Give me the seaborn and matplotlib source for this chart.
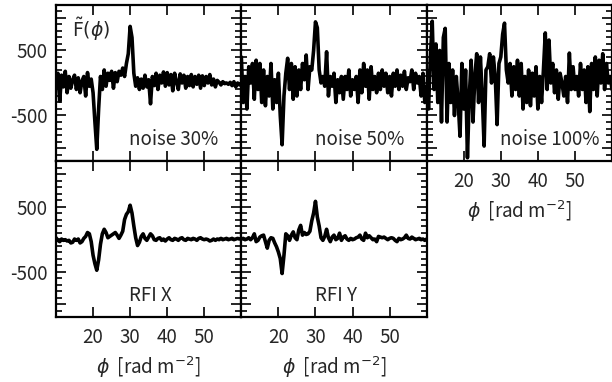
import numpy as np
import pandas as pd
import matplotlib
matplotlib.use("Agg")
import matplotlib.pyplot as plt
from matplotlib.ticker import MultipleLocator
import seaborn as sns

# Faraday dispersion function samples, phi = 10 .. 60 rad m^-2 in steps of 0.5
phi = np.arange(10, 60.5, 0.5)

noise_30 = [
    0, 150, -280, 120, -60, 180, -150, 100, -80, 50,
    120, -100, 80, -150, 30, 100, -200, 160, -50, 60,
    -150, -600, -1020, -400, 100, -100, 200, -50, 150, 40,
    180, -80, 160, 20, 180, 120, 230, 100, 300, 450,
    870, 700, 150, -50, 80, -100, 60, -80, 120, -60,
    50, -320, 100, -40, 150, -100, 120, 0, 170, -50,
    160, -30, 130, -120, 150, 20, -100, 140, 0, 120,
    -80, 100, -40, 130, -60, 100, -20, 120, -80, 110,
    -40, 100, 0, 130, -30, 60, -60, 40, 10, -30,
    20, -10, 0, -20, 10, -40, 20, -60, 0, -30,
    0,
]
noise_50 = [
    400, -300, 100, -400, 250, 0, 300, -250, 350, -100,
    300, -300, 200, -350, 100, -200, 300, -400, 50, -300,
    150, -500, -950, -200, 150, 380, -100, 300, -250, 250,
    -200, 200, -100, 300, 50, 430, -100, 250, 200, 500,
    940, 850, 200, 0, 100, -50, 480, -200, 100, -50,
    150, -300, 50, -150, 100, -250, 100, -100, 200, -200,
    50, -100, 100, -300, 200, -150, 300, -50, 200, -250,
    250, -100, 100, -150, 150, -100, 200, -50, 150, -150,
    100, -200, 150, -50, 200, -100, 120, -50, 180, -100,
    80, 20, 200, -100, 150, 0, 100, -200, 150, -300,
    -50,
]
noise_100 = [
    200, -400, 400, 950, -100, 600, -300, 500, -600, 700,
    840, -600, 300, -300, 200, -500, 100, -300, -820, 300,
    -400, 200, -1150, -200, 350, -600, 100, 450, -300, 400,
    -200, -970, 200, 250, 450, 0, 400, 100, -640, 300,
    400, 750, 920, 200, 0, 300, -200, 250, -100, 350,
    -200, 300, -400, 100, -300, 200, -350, 150, -200, 250,
    -400, 100, -300, 200, 770, -100, 660, 0, 300, -150,
    200, -250, 150, 0, -200, 100, -300, 460, -100, 250,
    -100, 100, -200, 300, -100, 200, -300, 250, -440, 300,
    -100, 400, -200, 350, 0, 450, -100, 300, 0, 100,
    -100,
]
rfi_x = [
    20, -20, -40, 0, -20, -10, -30, -20, -60, -50,
    0, -20, 0, -60, -40, 10, 40, 100, 80, -40,
    -250, -380, -480, -320, -80, 80, 150, 100, 20, 40,
    60, 80, 100, 60, 10, 60, 120, 300, 380, 420,
    520, 400, 200, 20, -100, -50, 40, 80, 10, -20,
    30, 80, 50, -10, -20, 10, 20, -20, 0, -30,
    0, 20, -10, -20, 10, 0, -20, 10, 20, -10,
    -20, 10, 0, -10, 10, 0, -20, 10, 20, 0,
    -10, 0, -10, -30, -20, 0, -20, 0, -10, 10,
    -10, 0, 10, -10, 0, 10, -10, 0, 10, 0,
    10,
]
rfi_y = [
    0, 10, -10, 0, 20, -10, 20, 80, -40, -20,
    30, 50, 60, -40, -140, -20, 20, 10, -60, -120,
    -200, -300, -530, -250, 80, 50, -20, 60, 110, 20,
    -10, 140, 210, 60, 100, 70, 80, 120, 280, 400,
    580, 340, 200, 20, -20, 40, 150, 20, -40, 30,
    60, -10, 10, 90, -20, 30, 50, 0, -20, 10,
    -10, 0, 20, 30, 60, 0, -20, 90, 20, 50,
    20, -10, 0, -40, 40, 30, 20, 30, 10, -10,
    10, 20, 10, -20, -40, 10, -10, 0, 20, 60,
    10, 0, 30, 10, -10, 0, 10, -10, 0, -20,
    0,
]

panel_names = ["noise 30%", "noise 50%", "noise 100%", "RFI X", "RFI Y"]
panel_values = [noise_30, noise_50, noise_100, rfi_x, rfi_y]

x_ticks = [10, 20, 30, 40, 50, 60]
x_ticklabels = ["", "20", "30", "40", "50", ""]
y_ticks = [-1000, -500, 0, 500, 1000]
y_ticklabels = ["", "-500", "", "500", ""]

sns.set_style("ticks")
plt.rcParams["font.family"] = ["Noto Sans CJK JP", "DejaVu Sans"]
plt.rcParams["axes.unicode_minus"] = False

fs = 13.5

fig, axes = plt.subplots(2, 3, figsize=(6.12, 3.82), dpi=100)
fig.subplots_adjust(left=0.0915, right=1.0, top=0.987, bottom=0.17,
                    wspace=0, hspace=0)

slots = [(0, 0), (0, 1), (0, 2), (1, 0), (1, 1)]
for (r, c), name, vals in zip(slots, panel_names, panel_values):
    ax = axes[r, c]
    df = pd.DataFrame({"phi": phi, "F": vals})
    sns.lineplot(data=df, x="phi", y="F", ax=ax, color="black", lw=2.6)
    ax.set_xlim(10, 60)
    ax.set_ylim(-1200, 1200)
    ax.set_xticks(x_ticks)
    ax.set_yticks(y_ticks)
    ax.yaxis.set_minor_locator(MultipleLocator(100))
    ax.tick_params(which="both", direction="in", top=True, right=True,
                   width=1.2, color="black", labelsize=fs)
    ax.tick_params(which="major", length=7)
    ax.tick_params(which="minor", length=4)
    ax.tick_params(axis="y", pad=6)
    ax.tick_params(axis="x", pad=7)
    for sp in ax.spines.values():
        sp.set_linewidth(1.6)
        sp.set_color("black")
    ax.set_ylabel("")
    if c == 0:
        ax.set_yticklabels(y_ticklabels)
    else:
        ax.set_yticklabels([])
    if r == 1 or c == 2:
        ax.set_xticklabels(x_ticklabels)
        ax.set_xlabel(r"$\phi$  [rad m$^{-2}$]", fontsize=fs, labelpad=5)
    else:
        ax.set_xticklabels([])
        ax.set_xlabel("")
    ax.text(0.395, 0.1, name, transform=ax.transAxes, fontsize=fs,
            ha="left", va="baseline")

axes[0, 0].text(0.085, 0.93, r"$\tilde{\mathrm{F}}(\phi)$", transform=axes[0, 0].transAxes,
                fontsize=fs, ha="left", va="top")
axes[1, 2].axis("off")

fig.savefig("out.png", dpi=100)
